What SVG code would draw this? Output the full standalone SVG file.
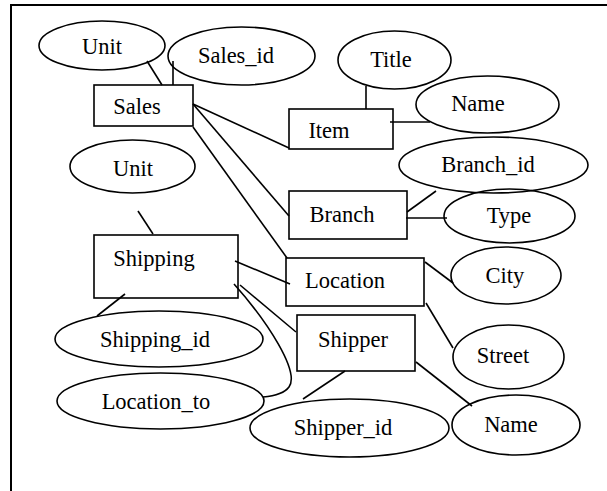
<svg xmlns="http://www.w3.org/2000/svg" width="607" height="491" viewBox="0 0 607 491">
<style>
.e{fill:none;stroke:#000;stroke-width:1.6}
.r{fill:none;stroke:#000;stroke-width:1.6}
.c line,.c path{stroke:#000;stroke-width:1.6;fill:none}
text{font-family:'Liberation Serif','Times New Roman',serif;font-size:22.5px;text-anchor:middle;fill:#000}
</style>
<rect width="607" height="491" fill="#fff"/>
<g id="frame"><path d="M11,491 V5 H607" fill="none" stroke="#000" stroke-width="2"/></g>
<g class="c" id="connectors">
<line x1="147" y1="61" x2="162" y2="85"/>
<line x1="173" y1="61" x2="173" y2="85"/>
<line x1="193" y1="104" x2="289" y2="148"/>
<line x1="193" y1="104" x2="289" y2="216"/>
<line x1="193" y1="127" x2="287" y2="258"/>
<line x1="366" y1="86" x2="366" y2="109"/>
<line x1="390" y1="122" x2="430" y2="122"/>
<line x1="407" y1="212" x2="436" y2="191"/>
<line x1="406" y1="218" x2="447" y2="218"/>
<line x1="425" y1="262" x2="453" y2="283"/>
<line x1="426" y1="303" x2="453" y2="348"/>
<line x1="345" y1="371" x2="303" y2="399"/>
<line x1="416" y1="362" x2="472" y2="406"/>
<line x1="138" y1="211" x2="153" y2="234"/>
<line x1="125" y1="294" x2="97" y2="316"/>
<line x1="235" y1="261" x2="290" y2="284"/>
<line x1="240" y1="285" x2="296" y2="332"/>
<path d="M234,284 C268,322 300,372 289,387 C284,394 274,396 263,397"/>
</g>
<g id="unit1"><ellipse class="e" cx="102" cy="45.5" rx="63" ry="24.5"/><text x="102" y="54">Unit</text></g>
<g id="sales_id"><ellipse class="e" cx="241.5" cy="56" rx="73.5" ry="29"/><text x="236" y="63">Sales_id</text></g>
<g id="sales"><rect class="r" x="94" y="85" width="99" height="41"/><text x="137" y="114">Sales</text></g>
<g id="title"><ellipse class="e" cx="394.5" cy="60" rx="56.5" ry="29"/><text x="391" y="67">Title</text></g>
<g id="name1"><ellipse class="e" cx="487.5" cy="104.5" rx="71.5" ry="28.5"/><text x="478" y="111">Name</text></g>
<g id="item"><rect class="r" x="289" y="109" width="104" height="40"/><text x="329" y="138">Item</text></g>
<g id="branch_id"><ellipse class="e" cx="493.5" cy="165" rx="94.5" ry="28"/><text x="488" y="172">Branch_id</text></g>
<g id="branch"><rect class="r" x="289" y="191" width="118" height="48"/><text x="342" y="222">Branch</text></g>
<g id="type"><ellipse class="e" cx="509.5" cy="216" rx="65.5" ry="27"/><text x="509" y="223">Type</text></g>
<g id="location"><rect class="r" x="286" y="258" width="138" height="48"/><text x="345" y="288">Location</text></g>
<g id="city"><ellipse class="e" cx="506" cy="275.5" rx="55" ry="28.5"/><text x="505" y="283">City</text></g>
<g id="shipper"><rect class="r" x="297" y="315" width="118" height="56"/><text x="353" y="347">Shipper</text></g>
<g id="street"><ellipse class="e" cx="508.5" cy="357" rx="55.5" ry="32"/><text x="503" y="363">Street</text></g>
<g id="shipper_id"><ellipse class="e" cx="349.5" cy="428" rx="99.5" ry="29"/><text x="343" y="435">Shipper_id</text></g>
<g id="name2"><ellipse class="e" cx="516" cy="425" rx="64" ry="30"/><text x="511" y="432">Name</text></g>
<g id="unit2"><ellipse class="e" cx="132.5" cy="166.5" rx="62.5" ry="26.5"/><text x="133" y="176">Unit</text></g>
<g id="shipping"><rect class="r" x="94" y="235" width="144" height="63"/><text x="154" y="266">Shipping</text></g>
<g id="shipping_id"><ellipse class="e" cx="159" cy="339" rx="104" ry="28"/><text x="155" y="347">Shipping_id</text></g>
<g id="location_to"><ellipse class="e" cx="160.5" cy="401" rx="103.5" ry="28"/><text x="156" y="409">Location_to</text></g>
</svg>
